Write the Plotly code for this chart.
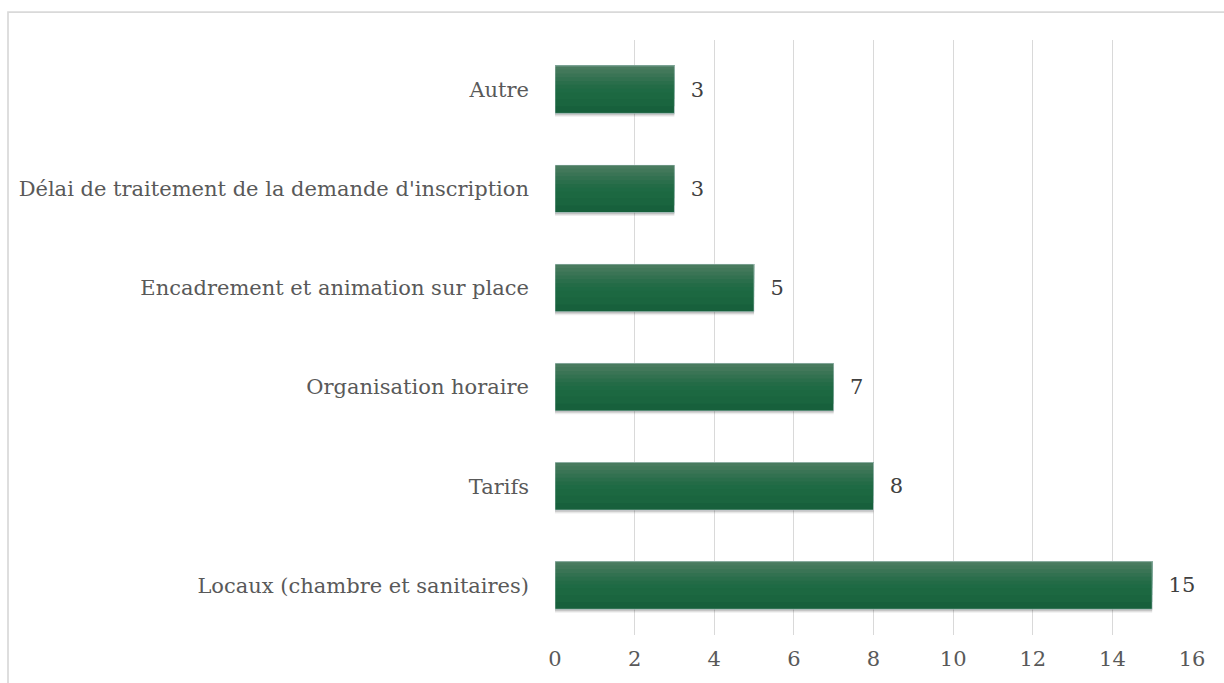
import plotly.graph_objects as go

# data
categories = ["Autre", "Délai de traitement de la demande d'inscription",
              "Encadrement et animation sur place", "Organisation horaire",
              "Tarifs", "Locaux (chambre et sanitaires)"]
values = [3, 3, 5, 7, 8, 15]
tick_vals = [0, 2, 4, 6, 8, 10, 12, 14, 16]

FONT = "DejaVu Serif"
BAR_W = 0.48

fig = go.Figure()

# soft shadow under each bar
for shift, alpha in [(0.035, 0.07), (0.022, 0.10), (0.012, 0.13)]:
    fig.add_trace(go.Bar(y=categories, x=values, orientation="h",
                         width=BAR_W, offset=-BAR_W / 2 + shift,
                         marker=dict(color=f"rgba(0,0,0,{alpha})", line=dict(width=0)),
                         hoverinfo="skip", showlegend=False))

# main bar: stacked bands from the top edge, lighter towards the top (gradient look)
bands = [(1.00, "#17603c"), (0.85, "#1a653f"), (0.70, "#1c6841"),
         (0.56, "#1e6a44"), (0.48, "#236b46"), (0.40, "#2a6e4b"),
         (0.32, "#327150"), (0.24, "#3a7455"), (0.16, "#42785a"),
         (0.08, "#497b5f")]
for frac, col in bands:
    fig.add_trace(go.Bar(y=categories, x=values, orientation="h",
                         width=BAR_W * frac, offset=-BAR_W / 2,
                         marker=dict(color=col, line=dict(width=0)),
                         hoverinfo="skip", showlegend=False))

# value labels
fig.add_trace(go.Bar(y=categories, x=values, orientation="h",
                     width=BAR_W, offset=-BAR_W / 2,
                     marker=dict(color="rgba(0,0,0,0)"),
                     text=values, texttemplate="  %{x}",
                     textposition="outside", cliponaxis=False,
                     textfont=dict(family=FONT, size=21, color="#404040"),
                     showlegend=False))

# light grey frame around the chart (cut off at right and bottom)
fig.add_shape(type="rect", xref="paper", yref="paper",
              x0=-0.8587, x1=1.08, y0=-0.12, y1=1.0469,
              line=dict(color="#d9d9d9", width=1.7), layer="below")

fig.update_layout(
    width=1224, height=683,
    barmode="overlay",
    plot_bgcolor="white", paper_bgcolor="white",
    margin=dict(l=555, r=32, t=40, b=46),
    font=dict(family=FONT, size=21, color="#595959"),
)
fig.update_xaxes(range=[0, 16], tickvals=tick_vals, showgrid=True,
                 gridcolor="#d9d9d9", gridwidth=1.3, zeroline=False,
                 showline=False, ticks="", ticklabelstandoff=9,
                 tickfont=dict(family=FONT, size=21, color="#595959"))
fig.update_yaxes(autorange="reversed", showgrid=False, showline=False,
                 ticks="", ticklabelstandoff=25,
                 tickfont=dict(family=FONT, size=21, color="#595959"))

# drop the default page margin so the figure sits at the window's corner
fig.write_html("out.html", config={"displayModeBar": False},
               post_script="document.body.style.margin='0';")
